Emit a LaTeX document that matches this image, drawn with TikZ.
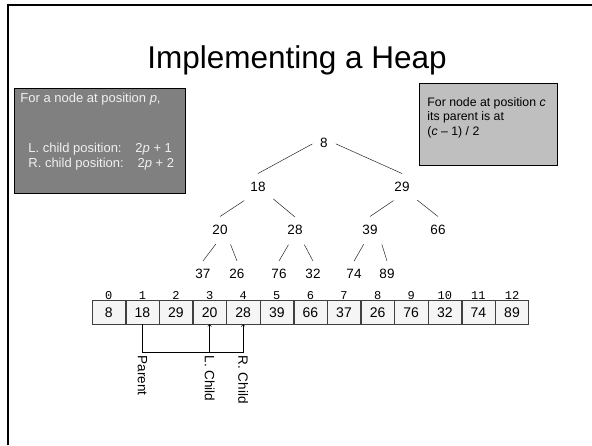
\documentclass[tikz,border=0pt]{standalone}
\usepackage{fontspec}
\setmainfont{Liberation Sans}
\newfontfamily\idxfont{Liberation Mono}
\usetikzlibrary{arrows,positioning,calc}

\begin{document}
\begin{tikzpicture}[x=1pt,y=-1pt,
  treenode/.style={inner xsep=6pt, inner ysep=8pt, font=\fontsize{13.5}{16}\selectfont},
  edge/.style={black!85, line width=0.5pt, shorten <=2pt},
  cell/.style={draw=black!75, fill=black!4, minimum width=33.2pt, minimum height=24pt, inner sep=0pt, font=\fontsize{14}{16}\selectfont},
  idx/.style={font=\idxfont\fontsize{12}{14}\selectfont, inner sep=0.5pt, label distance=0pt},
  note/.style={draw=black, line width=0.8pt, anchor=north west, font=\fontsize{13}{14.5}\selectfont},
  lbl/.style={rotate=-90, anchor=west, inner sep=3pt, font=\fontsize{13.5}{15}\selectfont}]

\useasboundingbox (0,0) rectangle (592,445);
% slide frame
\draw[line width=2pt] (8,445) -- (8,5) -- (592,5);

\node (title) at (297,60) {\fontsize{31.5}{38}\selectfont Implementing a Heap};

% formula boxes
\node[note, fill=black!50, text=white!94!black, inner xsep=6pt, inner ysep=5pt] (childbox) at (14,88)
  {\parbox[t][95pt][t]{159pt}{For a node at position \textit{p},\\[35.5pt]
   \hspace*{8pt}L. child position: \hspace{9pt}2\textit{p} + 1\\
   \hspace*{8pt}R. child position: \hspace{9pt}2\textit{p} + 2}};
\node[note, fill=black!25, inner xsep=8pt, inner ysep=0pt] (parentbox) at (419,83)
  {\parbox[t][82pt][t]{122pt}{\raggedright\vspace*{14pt}\fontsize{12.3}{14.5}\selectfont
   For node at position \textit{c}\\its parent is at\\(\textit{c} – 1) / 2}};

% the tree
\node[treenode] (n8) at (324,143) {8};
\node[treenode] (n18) at (258,186.5) {18};
\node[treenode] (n29) at (402,186.5) {29};
\node[treenode] (n20) at (220,229.5) {20};
\node[treenode] (n28) at (295,230) {28};
\node[treenode] (n39) at (370,229.5) {39};
\node[treenode] (n66) at (438,229.5) {66};
\node[treenode] (n37) at (203,274) {37};
\node[treenode] (n26) at (237,274) {26};
\node[treenode] (n76) at (279,274) {76};
\node[treenode] (n32) at (313,274) {32};
\node[treenode] (n74) at (354,274) {74};
\node[treenode] (n89) at (387,274) {89};

\foreach \a/\s/\b in {8/180/18, 8/0/29, 18/-133/20, 18/-39/28, 29/-118/39, 29/-42/66,
                      20/-103/37, 20/-53/26, 28/-113/76, 28/-57/32, 39/-112/74, 39/-49/89}
  \draw[edge] (n\a.\s) -- (n\b.north);

% the array
\node[cell, anchor=north west, label={[idx]above:0}] (c0) at (92,300) {8};
\foreach \v [count=\i, remember=\i as \p (initially 0)] in {18,29,20,28,39,66,37,26,76,32,74,89}
  \node[cell, right=0pt of c\p, label={[idx]above:\i}] (c\i) {\v};

\coordinate (bus) at ($(c1.south)+(0,28)$);
\node[lbl] (lblp) at (bus) {Parent};
\node[lbl] (lbll) at (c3.south |- bus) {L. Child};
\node[lbl] (lblr) at (c4.south |- bus) {R. Child};

\draw[->, line width=0.6pt] (c1.south) -- (lblp.west) -| (c4.south);
\draw[->, line width=0.6pt] (lbll.west) -- (c3.south);
\end{tikzpicture}
\end{document}
